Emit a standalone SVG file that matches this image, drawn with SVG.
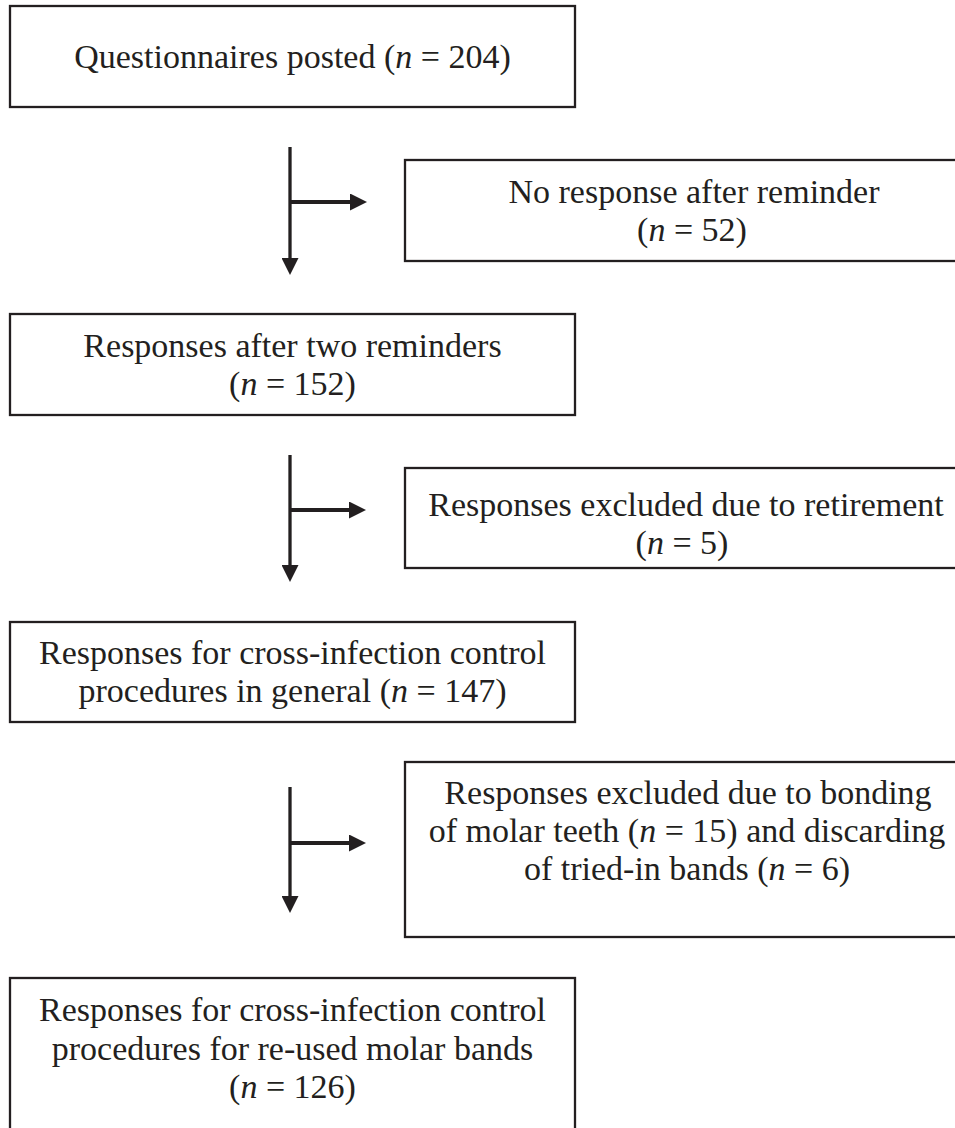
<svg xmlns="http://www.w3.org/2000/svg" width="955" height="1128" viewBox="0 0 955 1128">
<style>
.box{fill:#fff;stroke:#231f20;stroke-width:2.3}
.t{font-family:"Liberation Serif","Times New Roman",serif;font-size:34px;fill:#231f20;text-anchor:middle}
.i{font-style:italic}
.ln{stroke:#231f20;stroke-width:3.3;fill:none}
.lh{stroke:#231f20;stroke-width:4;fill:none}
</style>
<defs>
<marker id="ah" markerUnits="userSpaceOnUse" markerWidth="17" markerHeight="17" viewBox="0 0 17 17" refX="1" refY="8.5" orient="auto">
<path d="M0,0 L17,8.5 L0,17 z" fill="#231f20"/>
</marker>
</defs>
<rect width="955" height="1128" fill="#fff"/>
<g id="connectors">
<line class="ln" x1="290" y1="147" x2="290" y2="259" marker-end="url(#ah)"/>
<line class="lh" x1="290" y1="202" x2="351" y2="202" marker-end="url(#ah)"/>
<line class="ln" x1="290" y1="455" x2="290" y2="566" marker-end="url(#ah)"/>
<line class="lh" x1="290" y1="510" x2="350" y2="510" marker-end="url(#ah)"/>
<line class="ln" x1="290" y1="787" x2="290" y2="897" marker-end="url(#ah)"/>
<line class="lh" x1="290" y1="843" x2="350" y2="843" marker-end="url(#ah)"/>
</g>
<g id="n1">
<rect class="box" x="10" y="6" width="565" height="101"/>
<text class="t" x="292.5" y="68">Questionnaires posted (<tspan class="i">n</tspan> = 204)</text>
</g>
<g id="n2">
<rect class="box" x="405" y="160" width="600" height="101"/>
<text class="t" x="694" y="203">No response after reminder</text>
<text class="t" x="692" y="241">(<tspan class="i">n</tspan> = 52)</text>
</g>
<g id="n3">
<rect class="box" x="10" y="314" width="565" height="101"/>
<text class="t" x="292.5" y="357">Responses after two reminders</text>
<text class="t" x="292.5" y="395">(<tspan class="i">n</tspan> = 152)</text>
</g>
<g id="n4">
<rect class="box" x="405" y="468" width="600" height="100"/>
<text class="t" x="686" y="516">Responses excluded due to retirement</text>
<text class="t" x="682" y="554">(<tspan class="i">n</tspan> = 5)</text>
</g>
<g id="n5">
<rect class="box" x="10" y="622" width="565" height="100"/>
<text class="t" x="292.5" y="664">Responses for cross-infection control</text>
<text class="t" x="292.5" y="702">procedures in general (<tspan class="i">n</tspan> = 147)</text>
</g>
<g id="n6">
<rect class="box" x="405" y="762" width="600" height="175"/>
<text class="t" x="688" y="804">Responses excluded due to bonding</text>
<text class="t" x="687" y="842">of molar teeth (<tspan class="i">n</tspan> = 15) and discarding</text>
<text class="t" x="687" y="880">of tried-in bands (<tspan class="i">n</tspan> = 6)</text>
</g>
<g id="n7">
<rect class="box" x="10" y="978" width="565" height="180"/>
<text class="t" x="292.5" y="1021">Responses for cross-infection control</text>
<text class="t" x="292.5" y="1060">procedures for re-used molar bands</text>
<text class="t" x="292.5" y="1098">(<tspan class="i">n</tspan> = 126)</text>
</g>
</svg>
